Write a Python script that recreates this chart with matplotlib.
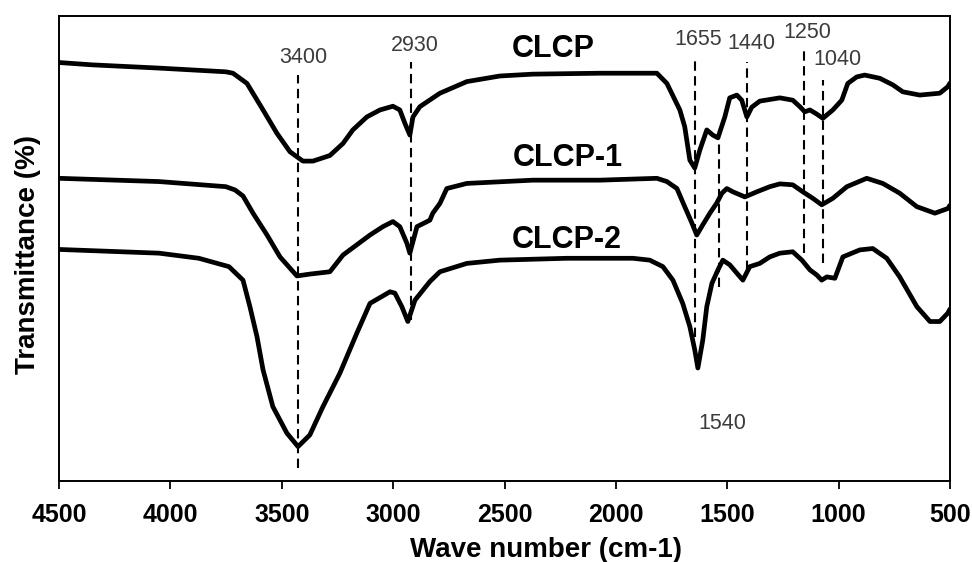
import matplotlib
matplotlib.use("Agg")
import matplotlib.pyplot as plt

plt.rcParams['font.family'] = ['Liberation Sans', 'DejaVu Sans']

# FTIR spectra (wave number, transmittance a.u.)
wn_clcp = [4500, 4352, 4051, 3751, 3719, 3656, 3584, 3522, 3463, 3405, 3360, 3284,
           3225, 3181, 3118, 3059, 3001, 2970, 2947, 2925, 2911, 2880, 2790, 2669,
           2521, 2373, 2072, 1893, 1816, 1771, 1713, 1691, 1668, 1646, 1623, 1592,
           1565, 1542, 1511, 1489, 1457, 1435, 1412, 1390, 1354, 1264, 1206, 1174,
           1152, 1129, 1098, 1071, 1026, 986, 959, 919, 883, 815, 757, 712,
           636, 546, 510, 500]
t_clcp = [90.0, 89.5, 88.8, 88.0, 87.7, 85.5, 79.8, 74.8, 70.8, 68.8, 68.8, 70.0,
          72.6, 75.5, 78.3, 79.8, 80.6, 79.8, 76.9, 74.4, 78.3, 80.5, 83.4, 85.9,
          87.1, 87.5, 87.7, 87.7, 87.7, 85.5, 79.8, 76.2, 69.0, 67.3, 71.2, 75.5,
          74.4, 73.8, 78.3, 82.4, 83.0, 81.9, 78.3, 80.4, 81.7, 82.4, 81.9, 80.5,
          79.4, 79.8, 78.9, 78.0, 79.8, 81.9, 85.5, 86.9, 87.3, 86.6, 85.2, 83.7,
          83.0, 83.4, 84.8, 85.6]

wn_clcp1 = [4500, 4051, 3751, 3710, 3674, 3629, 3566, 3508, 3432, 3374, 3284, 3225,
            3163, 3104, 3046, 3001, 2970, 2938, 2925, 2893, 2835, 2822, 2790, 2759,
            2669, 2373, 2072, 1816, 1771, 1726, 1691, 1659, 1637, 1610, 1578, 1547,
            1524, 1502, 1475, 1421, 1367, 1309, 1264, 1206, 1161, 1116, 1076, 1026,
            963, 874, 802, 726, 649, 568, 510, 500]
t_clcp1 = [65.1, 64.4, 63.3, 62.6, 61.3, 57.6, 52.9, 48.2, 44.1, 44.5, 45.0, 48.6,
           50.8, 52.9, 54.7, 55.8, 54.7, 51.1, 49.0, 54.7, 56.1, 57.6, 59.7, 62.9,
           64.0, 64.7, 64.7, 65.1, 64.4, 62.9, 59.0, 55.5, 52.9, 55.1, 57.6, 59.8,
           61.9, 62.9, 62.2, 61.1, 62.2, 63.3, 63.9, 63.7, 62.2, 60.8, 59.4, 60.8,
           63.3, 65.1, 64.0, 61.9, 59.0, 57.6, 58.6, 59.3]

wn_clcp2 = [4500, 4051, 3872, 3737, 3674, 3643, 3611, 3584, 3540, 3477, 3427, 3374,
            3315, 3239, 3163, 3104, 3014, 2992, 2961, 2934, 2902, 2835, 2790, 2669,
            2521, 2220, 1924, 1848, 1789, 1744, 1700, 1668, 1646, 1632, 1610, 1592,
            1569, 1542, 1520, 1489, 1457, 1430, 1399, 1354, 1309, 1264, 1206, 1165,
            1129, 1098, 1076, 1053, 1017, 981, 905, 847, 784, 726, 649, 590,
            546, 510, 500]
t_clcp2 = [49.8, 49.0, 47.9, 46.1, 43.2, 37.5, 31.0, 23.9, 16.0, 10.3, 7.4, 9.9,
           16.0, 23.2, 31.8, 38.2, 40.7, 40.4, 37.5, 34.3, 38.9, 42.9, 45.0, 46.8,
           47.5, 47.9, 47.9, 47.5, 46.1, 43.2, 38.2, 33.2, 28.2, 24.3, 30.3, 37.5,
           42.5, 45.4, 47.5, 46.5, 44.7, 43.2, 46.1, 46.8, 48.2, 49.0, 49.3, 47.5,
           45.4, 44.3, 43.2, 43.9, 43.6, 48.2, 49.7, 50.0, 47.9, 43.9, 37.5, 34.3,
           34.3, 36.1, 37.0]

series_names = ['CLCP', 'CLCP-1', 'CLCP-2']

# marked bands: line position, line top/bottom, label text
band_pos = [3427, 2920, 1645, 1538, 1412, 1156, 1071]
band_top = [87.3, 90.1, 91.2, 74.0, 90.1, 92.9, 86.2]
band_bottom = [2.8, 34.6, 31.0, 41.7, 45.4, 49.0, 46.9]
band_labels = ['3400', '2930', '1655', '1540', '1440', '1250', '1040']

xticks = [4500, 4000, 3500, 3000, 2500, 2000, 1500, 1000, 500]

fig = plt.figure(figsize=(9.72, 5.62), dpi=100)
ax = fig.add_axes([0.0607, 0.1441, 0.9167, 0.8274])

for wn, t in [(wn_clcp, t_clcp), (wn_clcp1, t_clcp1), (wn_clcp2, t_clcp2)]:
    ax.plot(wn, t, color='black', lw=3.4, solid_joinstyle='round',
            solid_capstyle='round', zorder=3)

for x, top, bot in zip(band_pos, band_top, band_bottom):
    ax.plot([x, x], [bot, top], color='black', lw=1.5, dashes=(4.5, 2.6), zorder=2)

# band labels
label_xy = {'3400': (3405, 91.0), '2930': (2902, 93.7), '1655': (1632, 95.0),
            '1440': (1390, 94.0), '1250': (1139, 96.5), '1040': (1004, 90.7),
            '1540': (1524, 12.4)}
for lab in band_labels:
    x, y = label_xy[lab]
    ax.text(x, y, lab, ha='center', va='center', fontsize=15.5, color='#3c3c3c')

name_xy = [(2283, 92.9), (2216, 69.5), (2220, 51.8)]
for name, (x, y) in zip(series_names, name_xy):
    ax.text(x, y, name, ha='center', va='center', fontsize=22, fontweight='bold')

ax.set_xlim(4500, 500)
ax.set_ylim(0, 100)
ax.set_xticks(xticks)
ax.set_xticklabels([str(v) for v in xticks], fontsize=18, fontweight='bold')
ax.tick_params(axis='x', direction='out', length=6, width=1.3, pad=10)
ax.set_yticks([])
for s in ax.spines.values():
    s.set_linewidth(1.4)

fig.text(546 / 972, 1 - 550 / 562, 'Wave number (cm-1)', ha='center', va='center',
         fontsize=20, fontweight='bold')
fig.text(28 / 972, 1 - 255 / 562, 'Transmittance (%)', ha='center', va='center',
         rotation=90, fontsize=20, fontweight='bold')

fig.savefig('out.png', dpi=100)
